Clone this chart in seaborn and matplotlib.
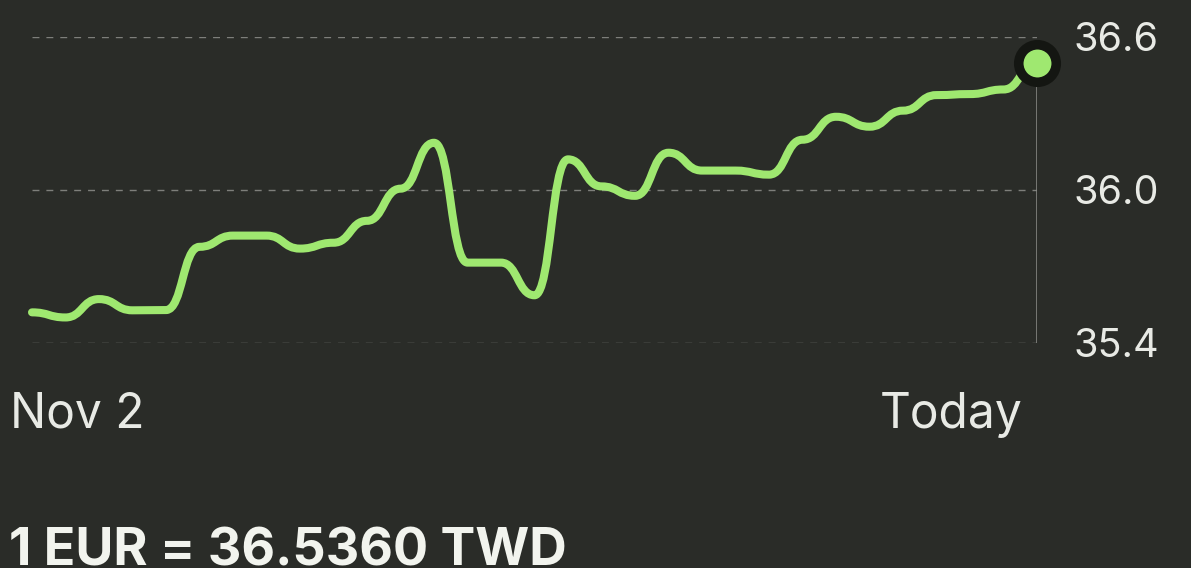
import numpy as np
import matplotlib
matplotlib.use("Agg")
import matplotlib.pyplot as plt
import seaborn as sns
from matplotlib.path import Path
from matplotlib.patches import PathPatch

# daily EUR -> TWD rate, Nov 2 .. today
DAYS = list(range(31))
RATES = [
    35.519, 35.499, 35.571, 35.527, 35.528, 35.776, 35.820, 35.820,
    35.769, 35.792, 35.878, 36.004, 36.184, 35.714, 35.714, 35.586,
    36.119, 36.013, 35.976, 36.145, 36.075, 36.075, 36.059, 36.196,
    36.286, 36.247, 36.310, 36.371, 36.375, 36.393, 36.497,
]
Y_TICKS = [35.4, 36.0, 36.6]
Y_TICK_LABELS = ["35.4", "36.0", "36.6"]
X_LABELS = ["Nov 2", "Today"]
HEADLINE = "1 EUR = 36.5360 TWD"

BG = "#2a2c28"
GREEN = "#9fe870"
RING = "#141612"
GRID = "#7e7f7b"
TEXT = "#e8eae5"

W, H = 1191, 568


def bump_path(x, y):
    """Bezier path with flat tangents at each point (like d3.curveBumpX)."""
    verts = [(x[0], y[0])]
    codes = [Path.MOVETO]
    for i in range(len(x) - 1):
        xm = (x[i] + x[i + 1]) / 2
        verts += [(xm, y[i]), (xm, y[i + 1]), (x[i + 1], y[i + 1])]
        codes += [Path.CURVE4] * 3
    return Path(verts, codes)


sns.set_theme(style="dark", rc={"axes.facecolor": BG, "figure.facecolor": BG})
plt.rcParams["font.family"] = ["Inter", "DejaVu Sans"]

fig = plt.figure(figsize=(W / 100, H / 100), dpi=100)
left, right = 32, 1037
top, bottom = 36.7, 342.7
ax = fig.add_axes([left / W, 1 - bottom / H, (right - left) / W, (bottom - top) / H])
ax.set_facecolor(BG)

for v in Y_TICKS:
    ax.axhline(v, color=GRID, lw=1.0, dashes=(5, 5), zorder=1)

ax.vlines(DAYS[-1], Y_TICKS[0], RATES[-1], color="#8c8d89", lw=1.1, zorder=2)

patch = PathPatch(bump_path(DAYS, RATES), facecolor="none", edgecolor=GREEN,
                  lw=5.8, capstyle="round", joinstyle="round", zorder=3, clip_on=False)
ax.add_patch(patch)

sns.scatterplot(x=[DAYS[-1]], y=[RATES[-1]], s=27 ** 2, color=GREEN,
                edgecolor=RING, linewidth=6.9, zorder=5, clip_on=False, ax=ax)

ax.set_xlim(DAYS[0], DAYS[-1])
ax.set_ylim(Y_TICKS[0], Y_TICKS[-1])
ax.set_xticks([])
ax.set_yticks(Y_TICKS)
ax.set_yticklabels(Y_TICK_LABELS)
ax.yaxis.tick_right()
ax.tick_params(axis="y", length=0, pad=26, labelsize=28.5, labelcolor=TEXT)
for s in ax.spines.values():
    s.set_visible(False)
ax.grid(False)

fig.text(10 / W, 1 - 428 / H, X_LABELS[0], fontsize=34.5, color=TEXT,
         ha="left", va="baseline")
fig.text(1022 / W, 1 - 428 / H, X_LABELS[1], fontsize=34.5, color=TEXT,
         ha="right", va="baseline")
fig.text(9 / W, 1 - 565 / H, HEADLINE, fontsize=37.5, fontweight="bold",
         color="#f2f4ee", ha="left", va="baseline")

fig.savefig("out.png", dpi=100, facecolor=BG)
